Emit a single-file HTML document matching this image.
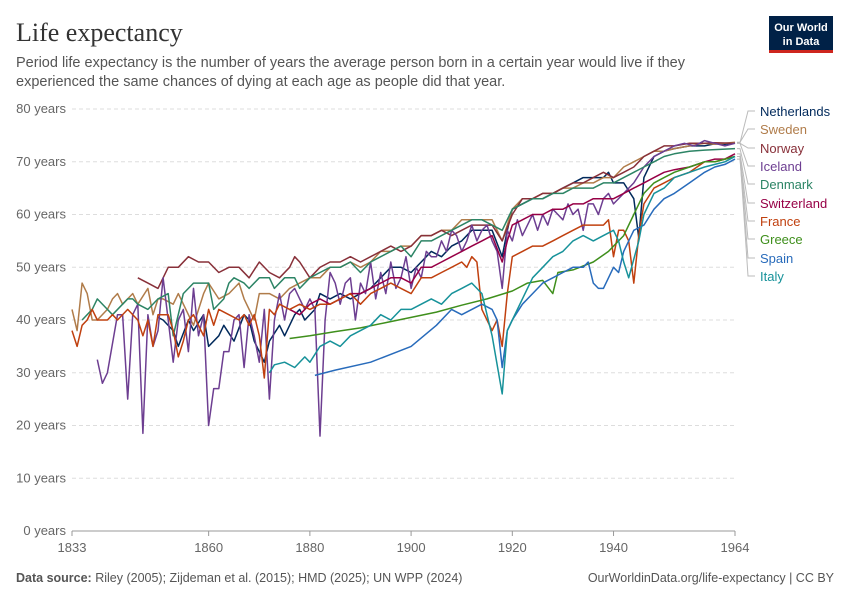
<!DOCTYPE html>
<html><head><meta charset="utf-8"><style>
body{margin:0;background:#fff;font-family:"Liberation Sans",sans-serif}
#wrap{position:relative;width:850px;height:600px;overflow:hidden}
</style></head><body>
<div id="wrap">
<svg id="svg" width="850" height="600">
<text x="16" y="41" font-family="Liberation Serif,serif" font-size="26" fill="#333">Life expectancy</text>
<text x="16" y="67" font-size="14.5" fill="#555">Period life expectancy is the number of years the average person born in a certain year would live if they</text>
<text x="16" y="86" font-size="14.5" fill="#555">experienced the same chances of dying at each age as people did that year.</text>
<g><rect x="769" y="16" width="64" height="36" fill="#002147"/><rect x="769" y="50" width="64" height="3" fill="#ce261e"/>
<text x="801" y="31" font-size="11" fill="#fff" text-anchor="middle" font-weight="bold">Our World</text><text x="801" y="45" font-size="11" fill="#fff" text-anchor="middle" font-weight="bold">in Data</text></g>
<g id="grid"></g><g id="lines"></g><g id="labels"></g>
<text x="16" y="582" font-size="12.5" fill="#555"><tspan font-weight="bold">Data source:</tspan> Riley (2005); Zijdeman et al. (2015); HMD (2025); UN WPP (2024)</text>
<text x="834" y="582" font-size="12.5" fill="#555" text-anchor="end">OurWorldinData.org/life-expectancy | CC BY</text>
</svg></div>
<script>
const yTicks=[0,10,20,30,40,50,60,70,80];
const xTicks=[1833,1860,1880,1900,1920,1940,1964];
const seriesNames=["Netherlands","Sweden","Norway","Iceland","Denmark","Switzerland","France","Greece","Spain","Italy"];
const seriesColors=["#00295b","#b07c4a","#883039","#6d3e91","#2c8465","#970046","#c0400f","#3f8f1c","#286bbb","#17929a"];
const netherlands=[[1850,40.5],[1851,40],[1853,38],[1854,35],[1856,40],[1857,38],[1859,41],[1860,35],[1862,37],[1863,39],[1865,36],[1867,41],[1868,40],[1869,36],[1871,32],[1872,36],[1874,39],[1875,37],[1877,41],[1878,42],[1879,40],[1881,42],[1882,45],[1884,44],[1886,45],[1888,44],[1890,45],[1892,46],[1894,48],[1896,50],[1898,50],[1900,49],[1902,51],[1904,53],[1906,52],[1908,54],[1910,55],[1912,57],[1914,57],[1916,57],[1918,52],[1919,57],[1920,61],[1922,62],[1924,63],[1926,63],[1928,64],[1930,65],[1932,66],[1934,67],[1936,67],[1938,67],[1939,68],[1940,66],[1942,66],[1944,63],[1945,55.5],[1946,67],[1948,71],[1950,72],[1952,72.5],[1955,73],[1958,73],[1960,73.4],[1962,73.3],[1964,73.6]];
const sweden=[[1833,42],[1834,38],[1835,47],[1836,45],[1837,40],[1838,40],[1840,42],[1841,44],[1842,45],[1843,43],[1845,45],[1846,43],[1848,46],[1849,41],[1850,44],[1851,44],[1853,43],[1854,45],[1856,41],[1857,39],[1859,45],[1860,47],[1862,44],[1864,45],[1866,47],[1867,44],[1869,40],[1870,45],[1872,45],[1874,44],[1876,46],[1878,47],[1880,48],[1882,48],[1884,50],[1886,50],[1888,51],[1890,50],[1892,51],[1894,53],[1896,53],[1898,54],[1900,54],[1902,56],[1904,56],[1906,57],[1908,57],[1910,59],[1912,59],[1914,59],[1916,59],[1918,55],[1919,58],[1920,61],[1922,63],[1924,63],[1926,64],[1928,64],[1930,65],[1932,65],[1934,66],[1936,66],[1938,67],[1940,67],[1942,69],[1944,70],[1946,71],[1948,72],[1950,72],[1952,72.5],[1955,73],[1958,73.5],[1960,73.3],[1964,73.7]];
const norway=[[1846,48],[1848,47],[1850,46],[1852,50],[1854,50],[1856,52],[1858,51],[1860,51],[1862,49],[1864,50],[1866,50],[1868,48],[1870,51],[1872,49],[1874,48],[1876,50],[1877,52],[1878,51],[1880,48],[1882,50],[1884,51],[1886,51],[1888,52],[1890,51],[1892,52],[1894,53],[1896,54],[1898,53],[1900,54],[1902,56],[1904,56],[1906,57],[1908,56],[1910,57],[1912,58],[1914,58],[1916,58],[1918,55],[1920,60],[1922,63],[1924,63],[1926,64],[1928,64],[1930,65],[1932,66],[1934,66],[1936,67],[1938,68],[1940,67],[1942,68],[1944,69],[1946,71],[1948,72],[1950,73],[1952,73],[1955,73.5],[1958,73.5],[1960,73.6],[1964,73.5]];
const iceland=[[1838,32.5],[1839,28],[1840,30],[1842,41],[1843,41],[1844,25],[1845,41],[1846,43],[1847,18.5],[1848,41],[1849,35],[1850,38],[1851,48],[1852,40],[1853,32],[1854,40],[1855,42],[1856,34],[1857,46],[1858,37],[1859,41],[1860,20],[1861,27],[1862,27],[1863,34],[1864,34],[1865,40],[1866,41],[1867,31],[1868,41],[1869,37],[1870,32],[1871,42],[1872,25],[1873,40],[1874,45],[1875,40],[1876,45],[1877,46],[1878,44],[1879,42],[1880,44],[1881,42],[1882,18],[1883,40],[1884,49],[1885,47],[1886,43],[1887,47],[1888,48],[1889,40],[1890,47],[1891,45],[1892,51],[1893,44],[1894,49],[1895,45],[1896,51],[1897,46],[1898,48],[1899,52],[1900,46],[1901,50],[1902,48],[1903,53],[1904,52],[1905,52],[1906,55],[1907,53],[1908,57],[1909,56],[1910,53],[1911,55],[1912,58],[1913,55],[1914,57],[1915,58],[1916,55],[1917,53],[1918,46],[1919,57],[1920,55],[1921,59],[1922,56],[1923,58],[1924,60],[1925,57],[1926,60],[1927,58],[1928,61],[1929,60],[1930,59],[1931,62],[1932,60],[1933,61],[1934,57],[1935,62],[1936,62],[1937,60],[1938,63],[1939,64],[1940,62],[1942,64],[1944,66],[1946,69],[1948,71],[1950,72],[1952,73],[1954,73.5],[1956,73],[1958,74],[1960,73.5],[1962,73],[1964,73.5]];
const denmark=[[1835,40],[1837,42],[1838,44],[1840,42],[1841,41],[1843,43],[1844,44],[1845,44],[1846,43],[1848,42],[1850,44],[1852,45],[1853,37],[1855,45],[1856,46],[1857,47],[1859,47],[1860,47],[1861,42],[1863,44],[1864,47],[1865,48],[1867,47],[1868,46],[1870,48],[1872,48],[1873,46],[1875,48],[1877,48],[1878,46],[1880,48],[1882,49],[1884,50],[1886,50],[1888,51],[1890,49],[1892,51],[1894,52],[1896,53],[1898,54],[1900,52],[1902,55],[1904,55],[1906,56],[1908,57],[1910,58],[1912,59],[1914,59],[1916,58],[1918,57],[1920,61],[1922,62],[1924,63],[1926,63],[1928,64],[1930,64],[1932,65],[1934,65],[1936,65],[1938,66],[1940,66],[1942,67],[1944,68],[1946,69],[1948,70],[1950,71],[1952,71.5],[1955,72],[1958,72.2],[1960,72.3],[1964,72.5]];
const switzerland=[[1876,42],[1878,41],[1880,43],[1882,44],[1884,43],[1886,44],[1888,45],[1890,45],[1892,46],[1894,47],[1896,48],[1898,48],[1900,47],[1902,50],[1904,50],[1906,51],[1908,52],[1910,53],[1912,54],[1914,55],[1916,56],[1918,51],[1919,55],[1920,58],[1922,59],[1924,60],[1926,60],[1928,61],[1930,61],[1932,62],[1934,62],[1936,63],[1938,63],[1940,63],[1942,64],[1944,65],[1946,66],[1948,67],[1950,68],[1952,68.5],[1955,69],[1958,70],[1960,70.5],[1962,70.5],[1964,71.5]];
const france=[[1833,38],[1834,35],[1835,39],[1836,40],[1837,42],[1838,40],[1840,40],[1841,41],[1842,40],[1844,42],[1846,40],[1847,37],[1848,40],[1849,35],[1850,41],[1852,41],[1853,38],[1854,33],[1855,36],[1856,40],[1857,41],[1858,39],[1859,37],[1860,42],[1861,39],[1862,42],[1864,41],[1866,40],[1867,41],[1868,39],[1869,41],[1870,37],[1871,29],[1872,42],[1873,41],[1874,43],[1876,42],[1878,43],[1880,42],[1882,43],[1884,43],[1886,44],[1888,45],[1890,43],[1892,45],[1894,46],[1896,47],[1898,46],[1900,45],[1902,48],[1904,48],[1906,49],[1908,50],[1910,51],[1911,50],[1912,52],[1913,51],[1914,42],[1916,38],[1917,40],[1918,35],[1919,45],[1920,52],[1922,53],[1924,54],[1926,54],[1928,55],[1930,56],[1932,57],[1934,58],[1936,58],[1938,58],[1939,59],[1940,52],[1941,57],[1942,57],[1943,55],[1944,47],[1945,56],[1946,62],[1948,65],[1950,66],[1952,67],[1955,68],[1958,70],[1960,70],[1962,70.5],[1964,71]];
const greece=[[1876,36.5],[1880,37],[1885,37.8],[1890,38.5],[1895,39.5],[1900,40.5],[1905,41.5],[1910,42.8],[1915,44],[1920,45.5],[1923,47],[1926,47.5],[1928,45],[1929,49],[1932,49.5],[1936,51],[1939,53],[1940,54],[1942,56],[1944,60],[1946,64],[1948,66],[1950,67],[1952,68],[1955,69],[1958,70],[1960,70],[1962,70.5],[1964,71]];
const spain=[[1881,29.5],[1885,30.5],[1892,32],[1900,35],[1905,39],[1908,42],[1910,41],[1912,42],[1914,43],[1916,42],[1917,40],[1918,31],[1919,38],[1920,40],[1922,43],[1924,45],[1926,47],[1928,48],[1930,49],[1932,50],[1934,50],[1935,51],[1936,47],[1937,46],[1938,46],[1939,48],[1940,50],[1941,49],[1942,53],[1944,57],[1946,58],[1948,61],[1950,63],[1952,64],[1955,66],[1958,68],[1960,69],[1962,69.5],[1964,70.5]];
const italy=[[1872,30],[1873,31.5],[1875,32],[1877,31],[1879,33],[1880,32],[1882,35],[1884,36],[1886,35],[1888,37],[1890,38],[1892,39],[1894,41],[1896,40],[1898,42],[1900,42],[1902,43],[1904,44],[1906,43],[1908,45],[1910,46],[1912,47],[1913,46],[1914,45],[1916,37],[1918,26],[1919,38],[1920,40],[1922,44],[1924,48],[1926,50],[1928,52],[1930,53],[1932,55],[1934,56],[1936,55],[1938,56],[1940,57],[1941,55],[1942,51],[1943,48],[1945,55],[1946,60],[1948,64],[1950,65],[1952,67],[1955,68],[1958,69],[1960,69.5],[1962,70],[1964,71]];
const seriesData=[netherlands,sweden,norway,iceland,denmark,switzerland,france,greece,spain,italy];

const NS="http://www.w3.org/2000/svg";
const X0=72,X1=735,Y0=531,Y80=109;
function sx(yr){return X0+(yr-1833)*(X1-X0)/(1964-1833);}
function sy(v){return Y0-v*(Y0-Y80)/80;}
function mk(tag,attrs,parent){const e=document.createElementNS(NS,tag);for(const k in attrs)e.setAttribute(k,attrs[k]);parent.appendChild(e);return e;}
const grid=document.getElementById('grid'),lines=document.getElementById('lines'),labels=document.getElementById('labels');
yTicks.forEach(t=>{
  const l=mk('line',{x1:72,x2:735,y1:sy(t),y2:sy(t),stroke:t===0?'#999':'#ddd','stroke-dasharray':t===0?'':'4,3'},grid);
  
  
  const tx=mk('text',{x:66,y:sy(t)+4,'font-size':13,fill:'#666','text-anchor':'end'},grid);
  tx.textContent=t+' years';
  
  
});
xTicks.forEach(t=>{
  const l=mk('line',{x1:sx(t),x2:sx(t),y1:531,y2:536,stroke:'#999'},grid);
  
  
  const tx=mk('text',{x:sx(t),y:552,'font-size':13,fill:'#666','text-anchor':'middle'},grid);
  tx.textContent=t;
  
  
});
const labelY=[111,129,148,166,184,203,221,239,258,276];
seriesData.forEach((d,i)=>{
  const p=mk('polyline',{points:d.map(q=>sx(q[0]).toFixed(1)+','+sy(q[1]).toFixed(1)).join(' '),fill:'none',stroke:seriesColors[i],'stroke-width':1.5,'stroke-linejoin':'round'},lines);
  
  
  const last=d[d.length-1];
  const c=mk('polyline',{points:`${sx(last[0])+2},${sy(last[1])} 740,${sy(last[1])} 748,${labelY[i]} 755,${labelY[i]}`,fill:'none',stroke:'#bbb','stroke-width':1},labels);
  
  
  const t=mk('text',{x:760,y:labelY[i]+5,'font-size':13,fill:seriesColors[i]},labels);
  t.textContent=seriesNames[i];
  
  
});
</script>
</body></html>
